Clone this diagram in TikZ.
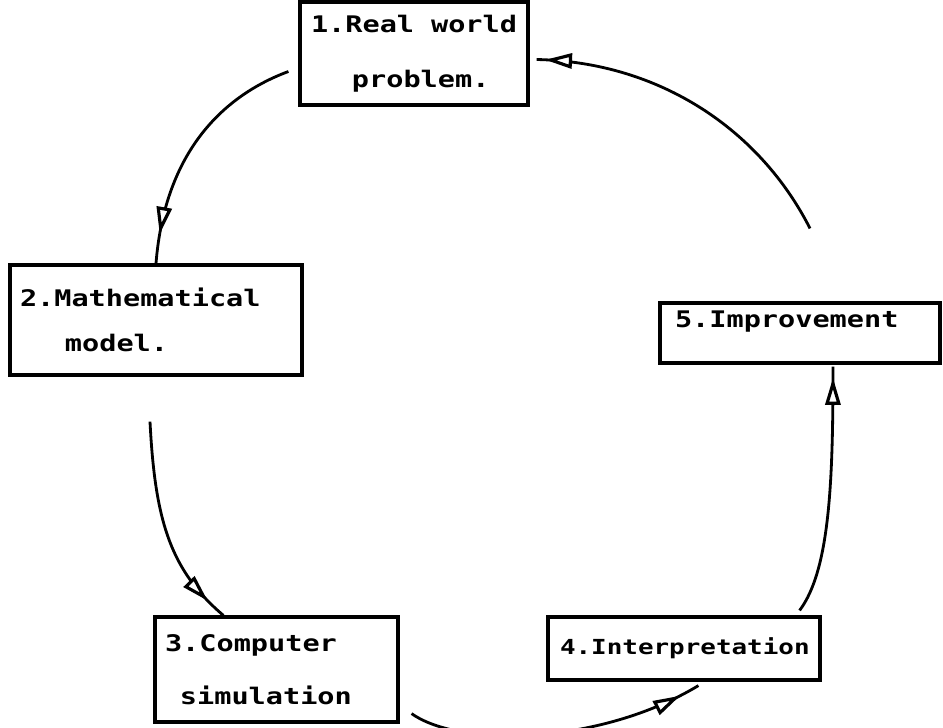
\documentclass[tikz,border=0pt]{standalone}
\usepackage{fontspec}
\setmonofont{DejaVu Sans Mono}[FakeStretch=1.25]
\usetikzlibrary{arrows.meta,decorations.markings}

\tikzset{
  stage/.style={draw, line width=1.8pt, inner xsep=0.2cm, inner ysep=0pt, align=left,
    font=\fontsize{13}{16}\selectfont\ttfamily\bfseries},
  flow/.style={line width=1.6pt},
  tipat/.style={postaction={decorate}, decoration={markings,
    mark=at position #1 with {\arrow{Triangle[fill=white, length=5.4mm, width=3mm, line width=1.8pt]}}}}
}

\begin{document}
\begin{tikzpicture}[x=0.02cm, y=-0.02cm]
    \useasboundingbox (0,0) rectangle (943,727);

    \node[stage, text width=220*0.02cm, minimum height=103*0.02cm, inner xsep=0.08cm] (real) at (414,53.5)
        {\mbox{\hspace*{0.14cm}1.Real\hspace{0.34cm}world}\\[15pt]\hspace*{0.96cm}problem.};
    \node[stage, text width=272*0.02cm, minimum height=110*0.02cm] (model) at (156,320)
        {2.Mathematical\\[10pt]\hspace*{0.9cm}model.};
    \node[stage, text width=223*0.02cm, minimum height=105*0.02cm] (sim) at (276.5,669.5)
        {3.Computer\\[14pt]\hspace*{0.3cm}simulation};
    \node[stage, text width=262*0.02cm, minimum height=63*0.02cm, inner xsep=0.1cm,
        font=\fontsize{11.8}{16}\selectfont\ttfamily\bfseries] (interp) at (684,648.5)
        {\hspace*{0.14cm}4.Interpretation};
    \node[stage, text width=260*0.02cm, minimum height=60*0.02cm] (impr) at (800,333)
        {\hspace*{0.1cm}5.Improvement\\\mbox{}};

    \draw[flow, tipat=0.88] ([shift={(-10,18)}]real.west)
        .. controls (225,95) and (165,150) .. (model.north);
    \draw[flow, tipat=0.9] ([shift={(-6,45)}]model.south)
        .. controls (155,520) and (170,570) .. ([shift={(70,0)}]sim.north west);
    \draw[flow, tipat=0.93] ([shift={(12,-10)}]sim.south east)
        .. controls (460,748) and (600,745) .. ([shift={(152,4)}]interp.south west);
    \draw[flow, tipat=0.955] ([shift={(-22,-5)}]interp.north east)
        .. controls (830,570) and (833,480) .. ([shift={(33,2)}]impr.south);
    \draw[flow, tipat=0.975] ([shift={(10,-73)}]impr.north)
        .. controls (760,130) and (660,62) .. ([shift={(7,6)}]real.east);
\end{tikzpicture}
\end{document}
